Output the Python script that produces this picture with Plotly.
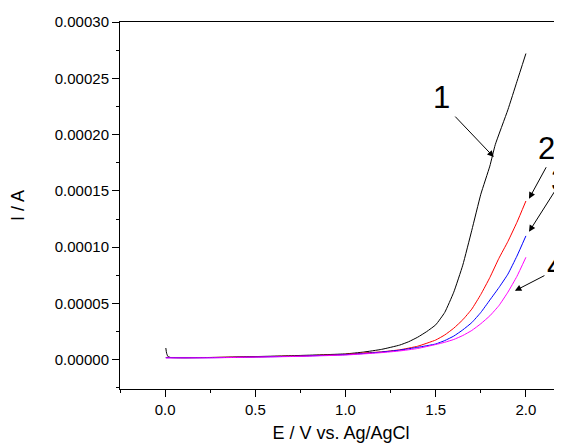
import plotly.graph_objects as go

# Curve 1 (black)
E1 = [0.004, 0.008, 0.015, 0.03, 0.1, 0.25, 0.5, 0.75, 1.0, 1.1, 1.2, 1.3, 1.35, 1.4, 1.45,
      1.5, 1.55, 1.6, 1.65, 1.7, 1.75, 1.8, 1.83, 1.9, 1.95, 2.0]
I1 = [1.04e-5, 6e-6, 3e-6, 2e-6, 1.7e-6, 2.0e-6, 2.8e-6, 3.8e-6, 5.2e-6, 6.8e-6, 9.2e-6, 1.3e-5, 1.6e-5, 2.0e-5, 2.5e-5,
      3.1e-5, 4.2e-5, 6.0e-5, 8.4e-5, 1.15e-4, 1.47e-4, 1.72e-4, 1.91e-4, 2.22e-4, 2.47e-4, 2.72e-4]

# Curves 2-4 share a potential grid
E = [0.004, 0.25, 0.5, 0.75, 1.0, 1.1, 1.2, 1.3, 1.4, 1.5, 1.55, 1.6, 1.65, 1.7, 1.75,
     1.8, 1.85, 1.9, 1.95, 2.0]
I2 = [2.0e-6, 2.0e-6, 2.6e-6, 3.4e-6, 4.8e-6, 6e-6, 7e-6, 8.8e-6, 1.2e-5, 1.75e-5, 2.2e-5, 2.8e-5, 3.55e-5, 4.5e-5, 5.8e-5,
      7.3e-5, 9.0e-5, 1.05e-4, 1.22e-4, 1.41e-4]
I3 = [1.8e-6, 1.8e-6, 2.4e-6, 3.2e-6, 4.5e-6, 5.5e-6, 6.8e-6, 8.5e-6, 1.1e-5, 1.4e-5, 1.7e-5, 2.1e-5, 2.65e-5, 3.3e-5, 4.2e-5,
      5.3e-5, 6.4e-5, 7.6e-5, 9.2e-5, 1.1e-4]
I4 = [1.6e-6, 1.7e-6, 2.3e-6, 3.0e-6, 4.2e-6, 5.2e-6, 6.3e-6, 7.8e-6, 1.0e-5, 1.35e-5, 1.55e-5, 1.8e-5, 2.15e-5, 2.6e-5, 3.2e-5,
      3.9e-5, 4.8e-5, 6.0e-5, 7.4e-5, 9.1e-5]

labels = ["1", "2", "3", "4"]
# arrow head points (data coords)
head_E = [1.822, 2.017, 2.017, 1.939]
head_I = [1.80e-4, 1.43e-4, 1.136e-4, 6.12e-5]

FONT = "Arial, Liberation Sans, sans-serif"

fig = go.Figure()
for x, y, c in [(E1, I1, "black"), (E, I2, "red"), (E, I3, "blue"), (E, I4, "#FF00FF")]:
    fig.add_trace(go.Scatter(x=x, y=y, mode="lines",
                             line=dict(color=c, width=1, shape="spline", smoothing=0.4),
                             showlegend=False))

# arrows
offsets = [(-40, -42), (18, -33), (42, -52), (31, -16)]
for hx, hy, (ax, ay) in zip(head_E, head_I, offsets):
    fig.add_annotation(x=hx, y=hy, xref="x", yref="y", ax=ax, ay=ay, text="",
                       showarrow=True, arrowhead=2, arrowsize=1.3, arrowwidth=1, arrowcolor="black")

# page has an 8px body margin: figure is placed at (8, 8)
OFF = 8
W, H = 562 - OFF, 443 - OFF
L, R, T, B = 120 - OFF, 0, 22 - OFF, H - (389 - OFF)
# left edges of the label glyphs (page px) and vertical centres
pos = [(432, 98), (537, 148), (550, 180), (545.5, 266)]
for lab, (px, py) in zip(labels, pos):
    fx = (px - OFF - L) / (W - L - R)
    fy = (H - B - (py - OFF)) / (H - T - B)
    fig.add_annotation(x=fx, y=fy, xref="paper", yref="paper",
                       text=lab, showarrow=False, font=dict(size=31, color="black", family=FONT),
                       xanchor="left", yanchor="middle", borderpad=0)

fig.update_layout(
    width=W, height=H, margin=dict(l=L, r=R, t=T, b=B, autoexpand=False),
    plot_bgcolor="white", paper_bgcolor="white",
    font=dict(family=FONT, color="black", size=15),
)
fig.update_xaxes(
    automargin=False,
    range=[-0.25, 2.2], dtick=0.5, tick0=0, tickformat=".1f",
    showgrid=False, zeroline=False, showline=True, linecolor="black", linewidth=1, mirror=True,
    ticks="outside", ticklen=7, tickcolor="black",
    minor=dict(dtick=0.25, tick0=0, ticks="outside", ticklen=3, tickcolor="black"),
    tickfont=dict(size=15),
    title=dict(text="E / V vs. Ag/AgCl", font=dict(size=18), standoff=16),
)
fig.update_yaxes(
    automargin=False,
    range=[-2.6e-5, 3.0e-4], dtick=5e-5, tick0=0, tickformat=".5f",
    showgrid=False, zeroline=False, showline=True, linecolor="black", linewidth=1, mirror=False,
    ticks="outside", ticklen=7, tickcolor="black",
    minor=dict(dtick=2.5e-5, tick0=0, ticks="outside", ticklen=3, tickcolor="black"),
    tickfont=dict(size=15),
    title=dict(text="I / A", font=dict(size=18), standoff=25),
)

fig.write_html("out.html")
